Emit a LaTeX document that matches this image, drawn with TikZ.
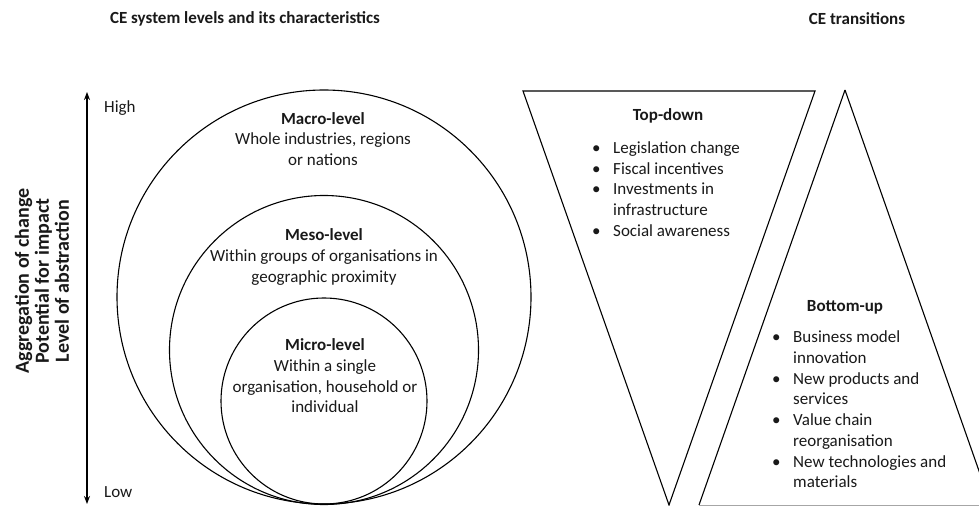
\documentclass[tikz,border=0pt]{standalone}
\usepackage{fontspec}
\setmainfont{Carlito}
\usetikzlibrary{arrows.meta}
\begin{document}
\begin{tikzpicture}[x=1bp,y=-1bp,
  txt/.style={inner sep=0pt, font=\fontsize{17bp}{20.7bp}\selectfont, text=black!90},
  ttl/.style={txt, font=\fontsize{17bp}{20.7bp}\selectfont\bfseries},
  ring/.style={circle, draw, line width=1.1bp, inner sep=0pt},
  tri/.style={draw, line width=1.1bp, line join=miter},
  axis/.style={{Stealth[length=8bp,width=6bp]}-{Stealth[length=8bp,width=6bp]}, line width=1.8bp}
]
\useasboundingbox (0,0) rectangle (979,506);
\clip (0,0) rectangle (979,506);

% titles
\node[ttl] (t1) at (245,19) {CE system levels and its characteristics};
\node[ttl] (t2) at (857,19) {CE transitions};

% axis
\coordinate (atop) at (87,92);
\coordinate (abot) at (87,504);
\draw[axis] (abot) -- (atop);
\node[txt, anchor=west] (high) at (104,108) {High};
\node[txt, anchor=west] (low) at (104,492) {Low};
\node[txt, rotate=90, align=center, font=\fontsize{20bp}{20bp}\selectfont\bfseries] (axlab) at (42,281)
  {Aggregation of change\\Potential for impact\\Level of abstraction};

% circles
\node[ring, minimum size=414bp] (macro) at (324,297) {};
\node[ring, minimum size=309bp] (meso) at (324,350) {};
\node[ring, minimum size=206bp] (micro) at (324,401) {};

\node[txt, align=center] (macrotxt) at (323,139)
  {\textbf{Macro-level}\\Whole industries, regions\\or nations};
\node[txt, align=center] (mesotxt) at (324,257)
  {\textbf{Meso-level}\\Within groups of organisations in\\geographic proximity};
\node[txt, align=center] (microtxt) at (325,376)
  {\textbf{Micro-level}\\Within a single\\organisation, household or\\individual};

% triangles
\coordinate (tdA) at (523,91);
\coordinate (tdB) at (815,91);
\coordinate (tdC) at (669,505);
\draw[tri] (tdA) -- (tdB) -- (tdC) -- cycle;
\coordinate (buA) at (845,90);
\coordinate (buB) at (991,505);
\coordinate (buC) at (699,505);
\draw[tri] (buA) -- (buB);
\draw[tri] (buA) -- (buC);
\draw[line width=0.8bp, black!35] (buC) -- (buB);

% top-down text
\node[ttl] (tdh) at (668,116) {Top-down};
\node[txt, anchor=west, align=left] (tdl) at (592,189)
  {\makebox[21bp][l]{\textbullet}Legislation change\\
   \makebox[21bp][l]{\textbullet}Fiscal incentives\\
   \makebox[21bp][l]{\textbullet}Investments in\\
   \makebox[21bp][l]{}infrastructure\\
   \makebox[21bp][l]{\textbullet}Social awareness};

% bottom-up text
\node[ttl] (buh) at (845,307) {Bottom-up};
\node[txt, anchor=west, align=left] (bul) at (772,409.5)
  {\makebox[21bp][l]{\textbullet}Business model\\
   \makebox[21bp][l]{}innovation\\
   \makebox[21bp][l]{\textbullet}New products and\\
   \makebox[21bp][l]{}services\\
   \makebox[21bp][l]{\textbullet}Value chain\\
   \makebox[21bp][l]{}reorganisation\\
   \makebox[21bp][l]{\textbullet}New technologies and\\
   \makebox[21bp][l]{}materials};
\end{tikzpicture}
\end{document}
